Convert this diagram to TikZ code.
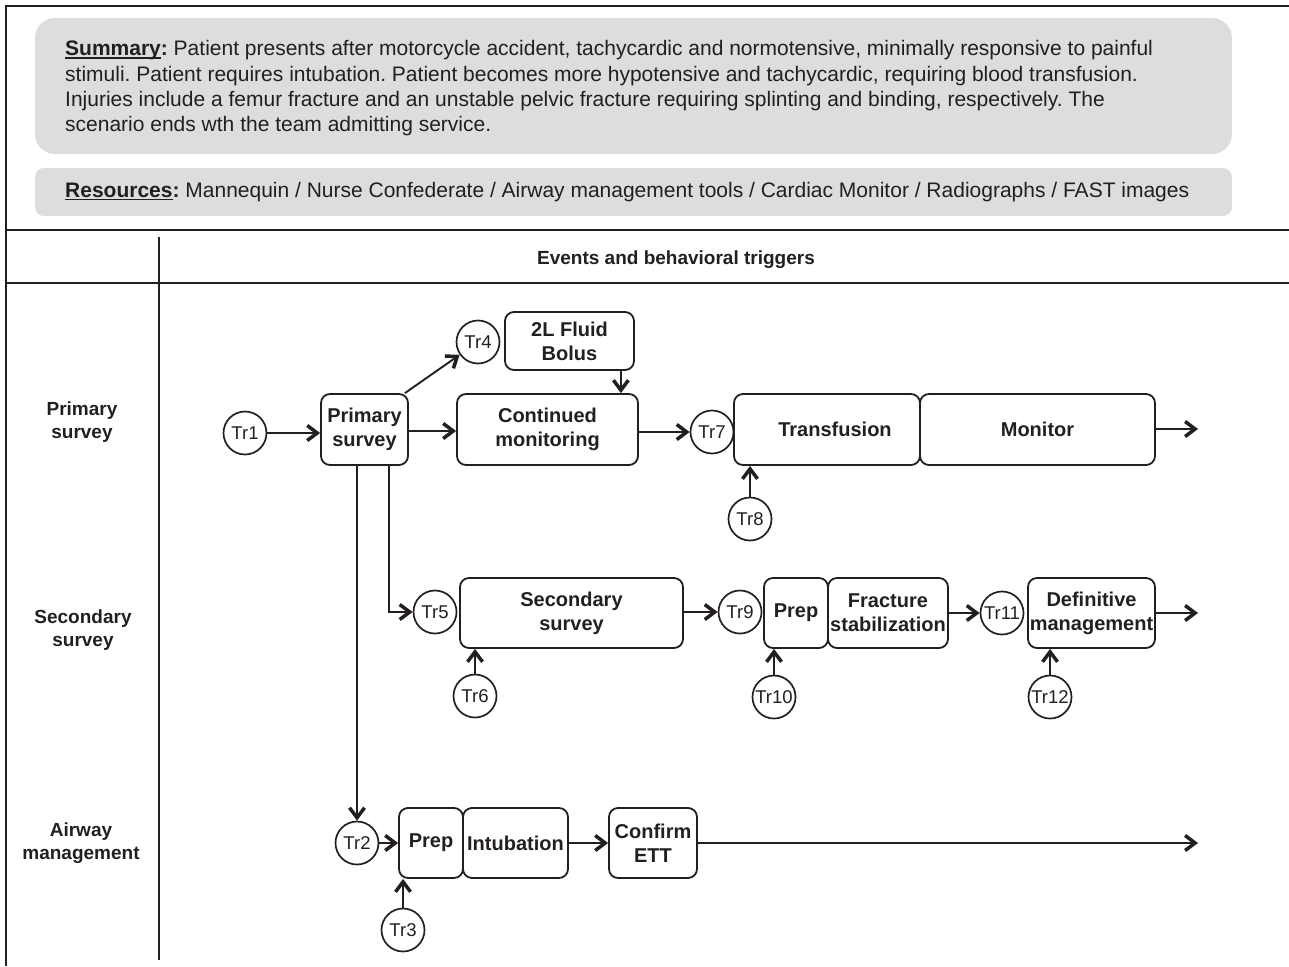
\documentclass[tikz,border=0pt]{standalone}
\usepackage{fontspec}
\setmainfont{Liberation Sans}
\usetikzlibrary{arrows.meta}
\definecolor{panel}{HTML}{DCDDDD}
\definecolor{ink}{HTML}{231F20}
% underline that sits just below the baseline
\newcommand{\undr}[1]{\leavevmode\setbox0=\hbox{#1}\rlap{\copy0}\rule[-2.6pt]{\wd0}{1.3pt}}
\frenchspacing

\begin{document}
\begin{tikzpicture}[x=1pt,y=-1pt,
  every node/.style={text=ink},
  box/.style={draw=ink, line width=1.8pt, rounded corners=9pt,
    font=\fontsize{20}{24}\selectfont\bfseries, align=center,
    inner sep=0pt, minimum height=71pt},
  trig/.style={circle, draw=ink, line width=1.7pt, minimum size=43pt,
    inner sep=0pt, font=\fontsize{18.5}{20}\selectfont},
  arr/.style={draw=ink, line width=1.9pt,
    -{Straight Barb[length=10pt,width=15pt,line width=3.5pt]}},
  rule/.style={draw=ink, line width=1.8pt},
  lane/.style={font=\fontsize{19}{23}\selectfont\bfseries, align=center},
  blurb/.style={anchor=base west, align=left, inner sep=0pt,
    font=\fontsize{21}{25.2}\selectfont}
]
\useasboundingbox (0,0) rectangle (1289,966);

% frame and table rules
\draw[rule] (1289,6) -- (6,6) -- (6,966);
\draw[rule] (6,230) -- (1289,230);
\draw[rule] (6,283) -- (1289,283);
\draw[rule] (159,237) -- (159,960);

% summary and resources panels (base anchor = last line's baseline)
\fill[panel, rounded corners=20pt] (35,18) rectangle (1232,154);
\node[blurb] (summary) at (65,131.5) {\textbf{\undr{Summary}:} Patient presents after motorcycle accident, tachycardic and normotensive, minimally responsive to painful\\
stimuli. Patient requires intubation. Patient becomes more hypotensive and tachycardic, requiring blood transfusion.\\
Injuries include a femur fracture and an unstable pelvic fracture requiring splinting and binding, respectively. The\\
scenario ends wth the team admitting service.};
\fill[panel, rounded corners=9pt] (35,168) rectangle (1232,216);
\node[blurb] (resources) at (65,197.5) {\textbf{\undr{Resources}:} Mannequin / Nurse Confederate / Airway management tools / Cardiac Monitor / Radiographs / FAST images};

% header and lane labels
\node[font=\fontsize{19}{22}\selectfont\bfseries] (hdr) at (676,260) {Events and behavioral triggers};
\node[lane] (lane1) at (82,422) {Primary\\survey};
\node[lane] (lane2) at (83,630) {Secondary\\survey};
\node[lane] (lane3) at (81,843) {Airway\\management};

% primary survey lane
\node[trig] (tr1) at (245,433) {Tr1};
\node[box, minimum width=87pt] (ps) at (364.5,429.5) {Primary\\survey};
\node[trig] (tr4) at (478,342) {Tr4};
\node[box, minimum width=129pt, minimum height=58pt] (bolus) at (569.5,341) {2L Fluid\\Bolus};
\node[box, minimum width=181pt] (cm) at (547.5,429.5) {Continued\\monitoring};
\node[trig] (tr7) at (712,432) {Tr7};
\node[box, minimum width=186pt] (trans) at (827,429.5) {\raisebox{-3pt}{\hspace*{16pt}Transfusion}};
\node[box, minimum width=235pt] (mon) at (1037.5,429.5) {Monitor};
\node[trig] (tr8) at (750,519) {Tr8};
\coordinate (monend) at (1198,429);
\coordinate (pslevel) at (0,431);

% secondary survey lane
\node[trig] (tr5) at (435,612) {Tr5};
\node[box, minimum width=223pt, minimum height=70pt] (ss) at (571.5,613) {Secondary\\survey};
\node[trig] (tr6) at (475,696) {Tr6};
\node[trig] (tr9) at (740,612) {Tr9};
\node[box, minimum width=64pt, minimum height=70pt] (prep1) at (796,613) {Prep};
\node[box, minimum width=120pt, minimum height=70pt] (frac) at (888,613) {Fracture\\stabilization};
\node[trig] (tr10) at (774,697) {Tr10};
\node[trig] (tr11) at (1002,613) {Tr11};
\node[box, minimum width=127pt, minimum height=70pt] (defm) at (1091.5,613) {Definitive\\management};
\node[trig] (tr12) at (1050,697) {Tr12};
\coordinate (defend) at (1198,613);

% airway lane
\node[trig] (tr2) at (357,843) {Tr2};
\node[box, minimum width=64pt, minimum height=70pt] (prep2) at (431,843) {Prep};
\node[box, minimum width=105pt, minimum height=70pt] (intu) at (515.5,843) {Intubation};
\node[box, minimum width=88pt, minimum height=70pt] (ett) at (653,843) {Confirm\\ETT};
\node[trig] (tr3) at (403,930) {Tr3};
\coordinate (ettend) at (1198,843);

% connectors: primary survey lane
\draw[arr] (tr1) -- (tr1 -| ps.west);
\draw[arr] (ps.east |- pslevel) -- (cm.west |- pslevel);
\draw[arr] ([xshift=-4pt]ps.north east) -- (tr4);
\coordinate (bx) at ([xshift=-18pt]cm.north east);
\draw[arr] (bx |- bolus.south) -- (bx);
\draw[arr] (cm.east |- tr7) -- (tr7);
\draw[arr] (mon.east |- monend) -- (monend);
\draw[arr] (tr8) -- (tr8 |- trans.south);

% connectors: branches out of the primary survey
\coordinate (pa) at (357,465);
\coordinate (pb) at (389,465);
\draw[arr] (pa) -- (tr2);
\draw[arr] (pb) |- (tr5);

% connectors: secondary survey lane
\draw[arr] (tr6) -- (tr6 |- ss.south);
\draw[arr] (ss.east |- tr9) -- (tr9);
\draw[arr] (tr10) -- (tr10 |- prep1.south);
\draw[arr] (frac.east |- tr11) -- (tr11);
\draw[arr] (tr12) -- (tr12 |- defm.south);
\draw[arr] (defm.east |- defend) -- (defend);

% connectors: airway lane
\draw[arr] (tr2) -- (prep2);
\draw[arr] (tr3) -- (tr3 |- prep2.south);
\draw[arr] (intu) -- (ett);
\draw[arr] (ett.east |- ettend) -- (ettend);
\end{tikzpicture}
\end{document}
